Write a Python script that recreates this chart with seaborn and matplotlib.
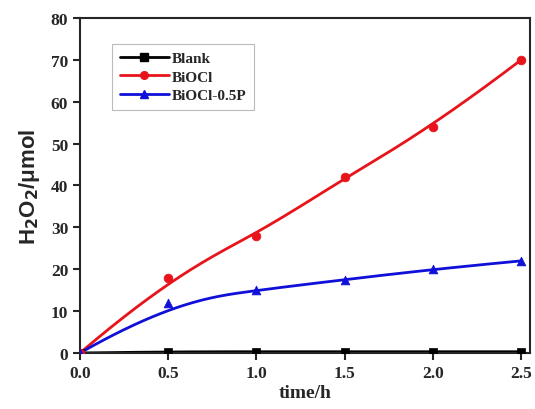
import numpy as np
import pandas as pd
import matplotlib
matplotlib.use("Agg")
import matplotlib.pyplot as plt
import seaborn as sns

# data
time_h = [0.0, 0.5, 1.0, 1.5, 2.0, 2.5]
blank = [0.0, 0.3, 0.3, 0.3, 0.3, 0.3]
biocl = [0.0, 18.0, 28.0, 42.0, 54.0, 70.0]
biocl_05p = [0.0, 12.0, 15.0, 17.5, 20.0, 22.0]

series_names = ["Blank", "BiOCl", "BiOCl-0.5P"]
colors = ["#000000", "#e8141b", "#1010d8"]
markers = ["s", "o", "^"]


def bspline(px, py, n=200):
    # clamped cubic B-spline with the data points as control points (like Origin's B-spline line)
    px = np.asarray(px, float)
    py = np.asarray(py, float)
    m = len(px)
    k = 3
    knots = np.concatenate([[0] * k, np.arange(m - k + 1), [m - k] * k]).astype(float)
    t = np.linspace(0, m - k, n)
    t[-1] -= 1e-9

    def basis(i, d, tt):
        if d == 0:
            return ((knots[i] <= tt) & (tt < knots[i + 1])).astype(float)
        out = np.zeros_like(tt)
        den1 = knots[i + d] - knots[i]
        den2 = knots[i + d + 1] - knots[i + 1]
        if den1 > 0:
            out += (tt - knots[i]) / den1 * basis(i, d - 1, tt)
        if den2 > 0:
            out += (knots[i + d + 1] - tt) / den2 * basis(i + 1, d - 1, tt)
        return out

    B = np.array([basis(i, k, t) for i in range(m)])
    return B.T @ px, B.T @ py


df = pd.DataFrame({"time": time_h * 3,
                   "value": blank + biocl + biocl_05p,
                   "sample": sum([[n] * len(time_h) for n in series_names], [])})

sns.set_style("ticks")
plt.rcParams["font.family"] = ["Liberation Serif", "DejaVu Serif"]
plt.rcParams["font.weight"] = "bold"

fig = plt.figure(figsize=(5.35, 4.1), dpi=100)
ax = fig.add_axes([0.1495, 0.1366, 0.8412, 0.8171])

for name, c, m in zip(series_names, colors, markers):
    sub = df[df["sample"] == name]
    cx, cy = bspline(sub["time"], sub["value"])
    sns.lineplot(x=cx, y=cy, ax=ax, color=c, lw=2, sort=False)
    sns.scatterplot(data=sub, x="time", y="value", ax=ax, color=c, marker=m,
                    s=40, edgecolor=c, linewidth=0.5, zorder=3)
    ax.plot([], [], color=c, lw=2, marker=m, ms=5.5, label=name)

ax.set_xlim(0, 2.55)
ax.set_ylim(0, 80)
ax.set_xticks([0.0, 0.5, 1.0, 1.5, 2.0, 2.5])
ax.set_xticklabels(["0.0", "0.5", "1.0", "1.5", "2.0", "2.5"])
ax.set_yticks(range(0, 81, 10))
ax.tick_params(labelsize=12.5, width=1.5, length=5, direction="out")
for s in ax.spines.values():
    s.set_linewidth(1.5)

ax.set_xlabel("time/h", fontsize=14, fontweight="bold", labelpad=2)
ax.set_ylabel("H$_2$O$_2$/μmol", fontsize=16, fontweight="bold",
              family=["Liberation Sans", "DejaVu Sans"], labelpad=6)

leg = ax.legend(loc="upper left", bbox_to_anchor=(0.055, 0.945), fontsize=11,
                frameon=True, fancybox=False, edgecolor="#aaaaaa",
                handlelength=3.2, borderpad=0.5, labelspacing=0.3,
                handletextpad=0.2)
leg.get_frame().set_linewidth(0.8)

fig.savefig("out.png", dpi=100)
